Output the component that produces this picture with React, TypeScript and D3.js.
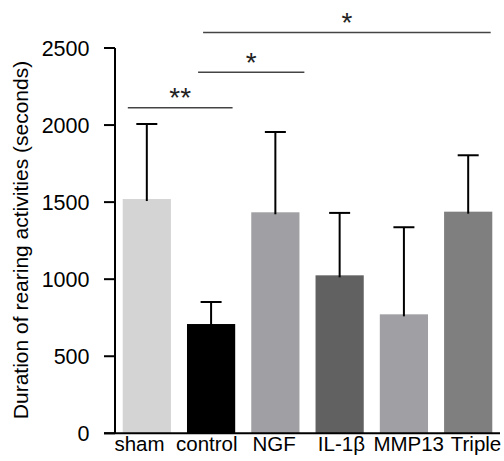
import React, { useEffect, useRef } from 'react'
import * as d3 from 'd3'

const categories = ['sham', 'control', 'NGF', 'IL-1β', 'MMP13', 'Triple']
const means = [1520, 709, 1434, 1025, 772, 1438]
const errors = [487, 143, 521, 405, 565, 366]
const barColors = ['#d4d4d4', '#000000', '#a0a0a4', '#616161', '#a0a0a4', '#7f7f7f']
const yTicks = [0, 500, 1000, 1500, 2000, 2500]

// significance brackets: pair of groups, height (in data units), label
const sigPairs = [['sham', 'control'], ['control', 'NGF'], ['control', 'Triple']]
const sigLevels = [2113, 2343, 2600]
const sigLabels = ['**', '*', '*']

const W = 504
const H = 461
const FONT = '"Liberation Sans", Arial, sans-serif'

export default function App() {
  const node = useRef<SVGSVGElement>(null)

  useEffect(() => {
    const svg = d3.select(node.current)
    svg.selectAll('*').remove()

    const x = d3.scaleBand()
      .domain(categories)
      .range([115, 500])
      .paddingInner(0.25)
      .paddingOuter(0.12)

    // labels sit a little wider apart than the bars
    const xLab = d3.scalePoint()
      .domain(categories)
      .range([139.5, 476])

    const y = d3.scaleLinear()
      .domain([0, 2500])
      .range([433.3, 48])

    const bw = x.bandwidth()

    // bars
    svg.selectAll('rect.bar')
      .data(categories)
      .enter()
      .append('rect')
      .attr('class', 'bar')
      .attr('x', d => x(d))
      .attr('y', (d, i) => y(means[i]))
      .attr('width', bw)
      .attr('height', (d, i) => y(0) - y(means[i]))
      .attr('fill', (d, i) => barColors[i])

    // error bars
    const eb = svg.selectAll('g.err')
      .data(categories)
      .enter()
      .append('g')
      .attr('class', 'err')
      .attr('stroke', '#000')
      .attr('stroke-width', 2)

    eb.append('line')
      .attr('x1', d => x(d) + bw / 2)
      .attr('x2', d => x(d) + bw / 2)
      .attr('y1', (d, i) => y(means[i]) + 2)
      .attr('y2', (d, i) => y(means[i] + errors[i]))

    eb.append('line')
      .attr('x1', d => x(d) + bw / 2 - 10.5)
      .attr('x2', d => x(d) + bw / 2 + 10.5)
      .attr('y1', (d, i) => y(means[i] + errors[i]))
      .attr('y2', (d, i) => y(means[i] + errors[i]))

    // y axis
    const yAxis = svg.append('g')
    yAxis.append('line')
      .attr('x1', 115).attr('x2', 115)
      .attr('y1', y(2500)).attr('y2', y(0))
      .attr('stroke', '#000').attr('stroke-width', 2)

    yAxis.selectAll('line.tick')
      .data(yTicks)
      .enter()
      .append('line')
      .attr('class', 'tick')
      .attr('x1', 104).attr('x2', 115)
      .attr('y1', d => y(d)).attr('y2', d => y(d))
      .attr('stroke', '#000').attr('stroke-width', 2)

    yAxis.selectAll('text')
      .data(yTicks)
      .enter()
      .append('text')
      .attr('x', 89.5)
      .attr('y', d => y(d))
      .attr('dy', '0.36em')
      .attr('text-anchor', 'end')
      .attr('font-family', FONT)
      .attr('font-size', 21.5)
      .text(d => String(d))

    // baseline
    svg.append('line')
      .attr('x1', 104).attr('x2', 500)
      .attr('y1', y(0)).attr('y2', y(0))
      .attr('stroke', '#000').attr('stroke-width', 2)

    // x labels
    svg.selectAll('text.xlab')
      .data(categories)
      .enter()
      .append('text')
      .attr('class', 'xlab')
      .attr('x', d => xLab(d))
      .attr('y', 451)
      .attr('text-anchor', 'middle')
      .attr('font-family', FONT)
      .attr('font-size', 20.5)
      .text(d => d)

    // y label
    svg.append('text')
      .attr('transform', 'translate(28, 240) rotate(-90)')
      .attr('text-anchor', 'middle')
      .attr('font-family', FONT)
      .attr('font-size', 21)
      .text('Duration of rearing activities (seconds)')

    // significance brackets
    const sigOffsets = [[-19, 21.5], [-13, 29], [-8, 22.5]]
    sigPairs.forEach((p, i) => {
      const x1 = x(p[0]) + bw / 2 + sigOffsets[i][0]
      const x2 = x(p[1]) + bw / 2 + sigOffsets[i][1]
      const ly = y(sigLevels[i])
      svg.append('line')
        .attr('x1', x1).attr('x2', x2)
        .attr('y1', ly).attr('y2', ly)
        .attr('stroke', '#444').attr('stroke-width', 1.5)
      svg.append('text')
        .attr('x', (x1 + x2) / 2)
        .attr('y', ly - 0.5)
        .attr('text-anchor', 'middle')
        .attr('font-family', FONT)
        .attr('font-size', 28)
        .attr('fill', '#222')
        .text(sigLabels[i])
    })
  }, [])

  return (
    <svg ref={node} width={W} height={H}
      style={{ position: 'absolute', left: 0, top: 0, background: '#fff' }} />
  )
}
